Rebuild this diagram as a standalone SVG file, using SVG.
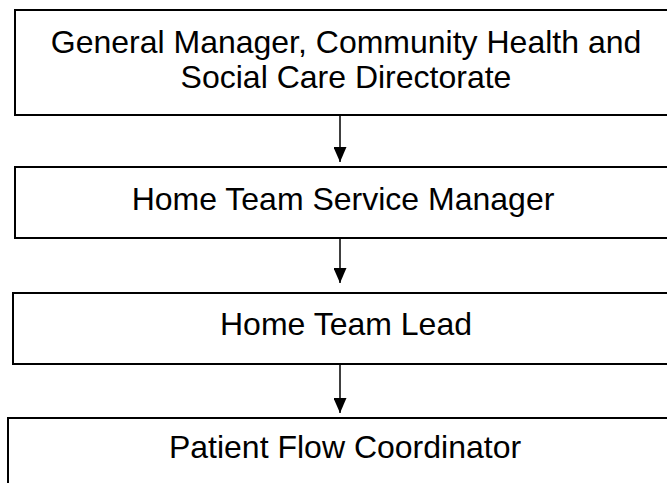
<svg xmlns="http://www.w3.org/2000/svg" width="667" height="483" viewBox="0 0 667 483">
  <style>
    .box { fill: #ffffff; stroke: #000000; stroke-width: 2; }
    .label { font-family: "Liberation Sans", Arial, sans-serif; font-size: 32px; fill: #000000; text-anchor: middle; }
    .link { stroke: #000000; stroke-width: 1.5; fill: none; marker-end: url(#head); }
  </style>
  <defs>
    <!-- solid triangular arrowhead, tip at the end of the line -->
    <marker id="head" viewBox="0 0 15 13" refX="15" refY="6.5" markerWidth="15" markerHeight="13" markerUnits="userSpaceOnUse" orient="auto">
      <path d="M0 0 L15 6.5 L0 13 Z" fill="#000000"/>
    </marker>
  </defs>
  <rect width="667" height="483" fill="#ffffff"/>

  <g id="general-manager">
    <rect class="box" x="15" y="10" width="670" height="105"/>
    <text class="label" x="346" y="53">General Manager, Community Health and</text>
    <text class="label" x="346" y="88">Social Care Directorate</text>
  </g>

  <g id="service-manager">
    <rect class="box" x="15" y="167" width="670" height="71"/>
    <text class="label" x="343" y="210">Home Team Service Manager</text>
  </g>

  <g id="team-lead">
    <rect class="box" x="13" y="293" width="670" height="71"/>
    <text class="label" x="346" y="335">Home Team Lead</text>
  </g>

  <g id="flow-coordinator">
    <rect class="box" x="8" y="418" width="680" height="80"/>
    <text class="label" x="345" y="458">Patient Flow Coordinator</text>
  </g>

  <g id="connectors">
    <line class="link" x1="340" y1="116" x2="340" y2="162"/>
    <line class="link" x1="340" y1="239" x2="340" y2="283"/>
    <line class="link" x1="340" y1="365" x2="340" y2="413"/>
  </g>
</svg>
